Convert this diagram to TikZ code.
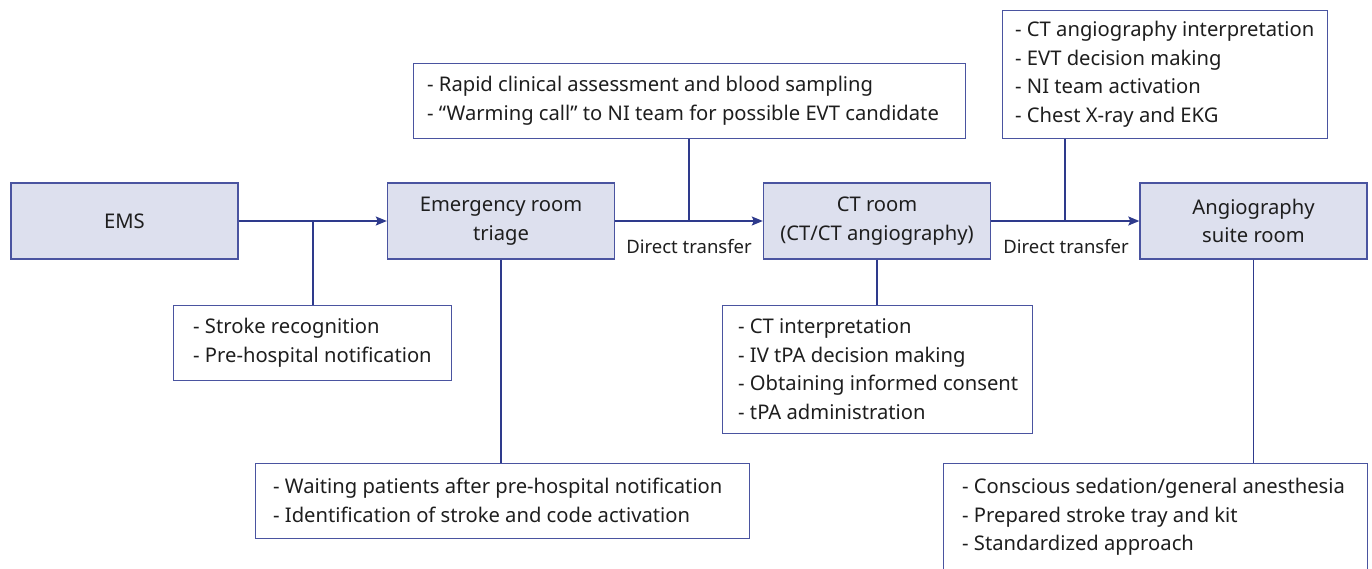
\documentclass[tikz,border=0pt]{standalone}
\usepackage{fontspec}
\setmainfont{Noto Sans}
\usetikzlibrary{arrows.meta}
\definecolor{boxline}{HTML}{4A54A0}
\definecolor{boxfill}{HTML}{DDE0EE}
\definecolor{conn}{HTML}{2E3A8C}
\definecolor{txt}{HTML}{1E1E1E}
\begin{document}
\begin{tikzpicture}[x=1pt,y=-1pt,
  every node/.style={text=txt, font=\fontsize{20.2}{28.5}\selectfont},
  mainbox/.style={draw=boxline, fill=boxfill, line width=1.4pt, minimum width=227pt, minimum height=76pt, align=center, inner sep=0pt},
  notebox/.style={draw=boxline, fill=white, line width=1.4pt, align=left, inner sep=0pt, anchor=north west},
  notetext/.style={anchor=west, align=left, inner sep=0pt},
  link/.style={draw=conn, line width=1.3pt},
  arr/.style={link, -{Stealth[length=11pt,width=9pt,inset=2pt]}},
  lbl/.style={font=\fontsize{18.5}{20}\selectfont, inner sep=0pt}
]
\useasboundingbox (0,0) rectangle (1372,568);
\fill[white] (0,0) rectangle (1372,568);

% main boxes
\node[mainbox] (ems) at (124.5,221) {EMS};
\node[mainbox] (er) at (501,221) {Emergency room\\triage};
\node[mainbox] (ct) at (877,221) {CT room\\(CT/CT angiography)};
\node[mainbox] (ang) at (1253.5,221) {Angiography\\suite room};

% note boxes
\node[notebox, minimum width=278pt, minimum height=75pt] (n1) at (173,305) {};
\node[notetext] (n1t) at (193,342.5) {- Stroke recognition\\- Pre-hospital notification};

\node[notebox, minimum width=552pt, minimum height=75pt] (n2) at (413,63) {};
\node[notetext] (n2t) at (427,100.5) {- Rapid clinical assessment and blood sampling\\- “Warming call” to NI team for possible EVT candidate};

\node[notebox, minimum width=494pt, minimum height=75pt] (n3) at (255,463) {};
\node[notetext] (n3t) at (273,500.5) {- Waiting patients after pre-hospital notification\\- Identification of stroke and code activation};

\node[notebox, minimum width=310pt, minimum height=128pt] (n4) at (722,305) {};
\node[notetext] (n4t) at (738,369) {- CT interpretation\\- IV tPA decision making\\- Obtaining informed consent\\- tPA administration};

\node[notebox, minimum width=325pt, minimum height=128pt] (n5) at (1002,10) {};
\node[notetext] (n5t) at (1015,74) {- CT angiography interpretation\\- EVT decision making\\- NI team activation\\- Chest X-ray and EKG};

\node[notebox, minimum width=424pt, minimum height=130pt] (n6) at (943,463) {};
\node[notetext, anchor=north west] (n6t) at (962,478) {- Conscious sedation/general anesthesia\\- Prepared stroke tray and kit\\- Standardized approach};

% junction coordinates
\coordinate (j1) at (313,221);
\coordinate (j2) at (689,221);
\coordinate (j3) at (1065,221);

% connectors
\draw[arr] (ems.east) -- (er.west);
\draw[link] (j1) -- (j1 |- n1.north);
\draw[arr] (er.east) -- (ct.west);
\draw[link] (j2) -- (j2 |- n2.south);
\draw[arr] (ct.east) -- (ang.west);
\draw[link] (j3) -- (j3 |- n5.south);
\draw[link] (er.south) -- (er.south |- n3.north);
\draw[link] (ct.south) -- (ct.south |- n4.north);
\draw[link] (ang.south) -- (ang.south |- n6.north);

% labels
\node[lbl] (t1) at (689,247) {Direct transfer};
\node[lbl] (t2) at (1066,247) {Direct transfer};
\end{tikzpicture}
\end{document}
